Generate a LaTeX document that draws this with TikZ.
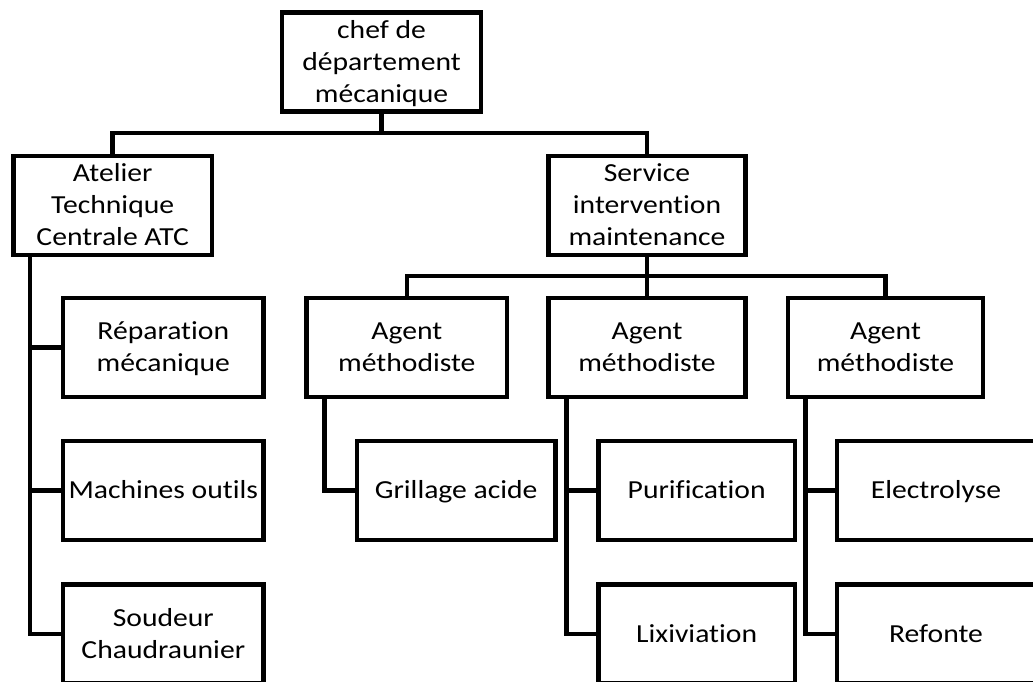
\documentclass[tikz,border=0pt]{standalone}
\usepackage{fontspec}
\setmainfont{Carlito}[FakeStretch=1.14,Ligatures={NoCommon}]
\newcommand\lnstrut{\rule[-8pt]{0pt}{32pt}}
\begin{document}
\begin{tikzpicture}[x=1pt,y=-1pt,line width=4.5pt,
  box/.style={draw, fill=white, rectangle, inner sep=0pt, minimum width=198pt, minimum height=99pt, align=center, font=\fontsize{26}{32}\selectfont},
  link/.style={draw, line width=4.5pt}]
\useasboundingbox (0,0) rectangle (1033,682);
\clip (0,0) rectangle (1033,682);
% level 0
\node[box, minimum width=199pt] (chef) at (381.5,62.2) {\lnstrut chef de\\\lnstrut département\\\lnstrut mécanique};
% level 1
\node[box, minimum width=198.7pt] (atc) at (112.7,205.3) {\lnstrut Atelier\\\lnstrut Technique\\\lnstrut Centrale ATC};
\node[box, minimum width=196.6pt] (sim) at (647,205.3) {\lnstrut Service\\\lnstrut intervention\\\lnstrut maintenance};
% level 2
\node[box, minimum width=200.3pt] (ag1) at (406.8,347.3) {\lnstrut Agent\\\lnstrut méthodiste};
\node[box, minimum width=196.6pt] (ag2) at (647,347.3) {\lnstrut Agent\\\lnstrut méthodiste};
\node[box, minimum width=195pt] (ag3) at (885.5,347.3) {\lnstrut Agent\\\lnstrut méthodiste};
\node[box, minimum width=200.7pt] (rep) at (163.3,347.3) {\lnstrut Réparation\\\lnstrut mécanique};
\node[box, minimum width=200.7pt] (mach) at (163.3,490.7) {\lnstrut Machines outils};
\node[box, minimum width=200.7pt] (soud) at (163.3,634.2) {\lnstrut Soudeur\\\lnstrut Chaudraunier};
% level 3
\node[box, minimum width=198.3pt] (gril) at (456.2,490.7) {\lnstrut Grillage acide};
\node[box, minimum width=196.7pt] (puri) at (696.7,490.7) {\lnstrut Purification};
\node[box, minimum width=196.7pt] (lixi) at (696.7,634.2) {\lnstrut Lixiviation};
\node[box, minimum width=198pt] (elec) at (936,490.7) {\lnstrut Electrolyse};
\node[box, minimum width=198pt] (ref) at (936,634.2) {\lnstrut Refonte};
% connectors
\coordinate (b1) at (381.5,133);
\draw[link] (chef.south) -- (b1);
\draw[link] (atc.north) |- (b1) -| (sim.north);
\coordinate (b2) at (647,276);
\draw[link] (sim.south) -- (ag2.north);
\draw[link] (ag1.north) |- (b2) -| (ag3.north);
\coordinate (t1) at ([xshift=18.7pt]atc.south west);
\draw[link] (t1) |- (soud.west);
\draw[link] (t1 |- rep.west) -- (rep.west);
\draw[link] (t1 |- mach.west) -- (mach.west);
\coordinate (t2) at ([xshift=20.3pt]ag1.south west);
\draw[link] (t2) |- (gril.west);
\coordinate (t3) at ([xshift=20pt]ag2.south west);
\draw[link] (t3) |- (lixi.west);
\draw[link] (t3 |- puri.west) -- (puri.west);
\coordinate (t4) at ([xshift=19.7pt]ag3.south west);
\draw[link] (t4) |- (ref.west);
\draw[link] (t4 |- elec.west) -- (elec.west);
\end{tikzpicture}
\end{document}
